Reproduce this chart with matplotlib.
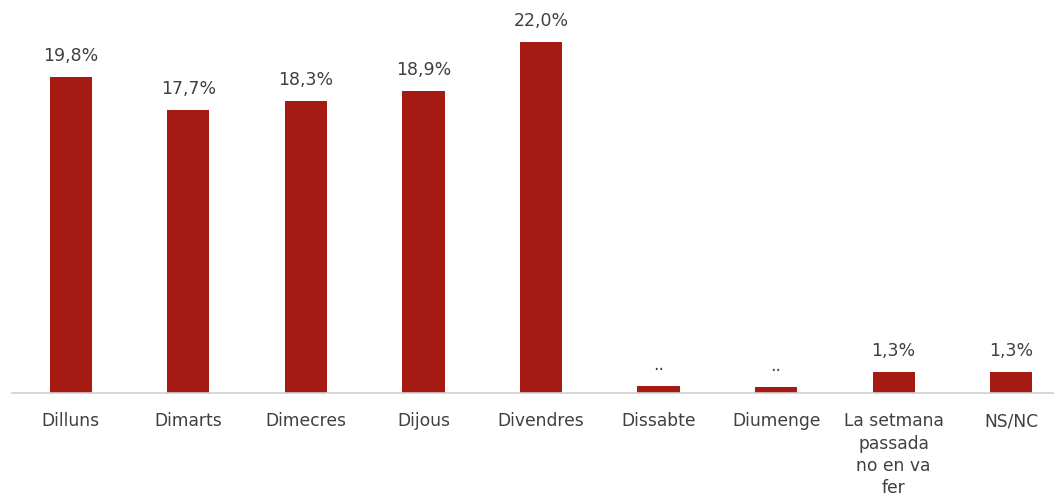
import matplotlib
matplotlib.use('Agg')
import matplotlib.pyplot as plt

# Data
categories = ['Dilluns', 'Dimarts', 'Dimecres', 'Dijous', 'Divendres',
              'Dissabte', 'Diumenge', 'La setmana\npassada\nno en va\nfer', 'NS/NC']
values = [19.8, 17.7, 18.3, 18.9, 22.0, 0.45, 0.35, 1.3, 1.3]
labels = ['19,8%', '17,7%', '18,3%', '18,9%', '22,0%', '..', '..', '1,3%', '1,3%']

W, H = 1054, 501
fig = plt.figure(figsize=(W / 100, H / 100), dpi=100)
# axes spans slightly past the right edge, like the original
ax = fig.add_axes([12 / W, (H - 393) / H, 1058 / W, 393 / H])

x = range(len(categories))
bars = ax.bar(x, values, width=0.36, color='#A51A12')

for xi, v, lab in zip(x, values, labels):
    ax.text(xi, v + 0.75, lab, ha='center', va='bottom', fontsize=12.5, color='#404040')

ax.set_xlim(-0.5, len(categories) - 0.5)
ax.set_ylim(0, 24.6)
ax.set_xticks(list(x))
ax.set_xticklabels(categories, fontsize=12.3, color='#404040', linespacing=1.3)
ax.tick_params(axis='x', length=0, pad=14)
ax.set_yticks([])
for s in ['top', 'right', 'left']:
    ax.spines[s].set_visible(False)
ax.spines['bottom'].set_color('#D0D0D0')
ax.spines['bottom'].set_linewidth(1.2)

fig.savefig('out.png', dpi=100)
